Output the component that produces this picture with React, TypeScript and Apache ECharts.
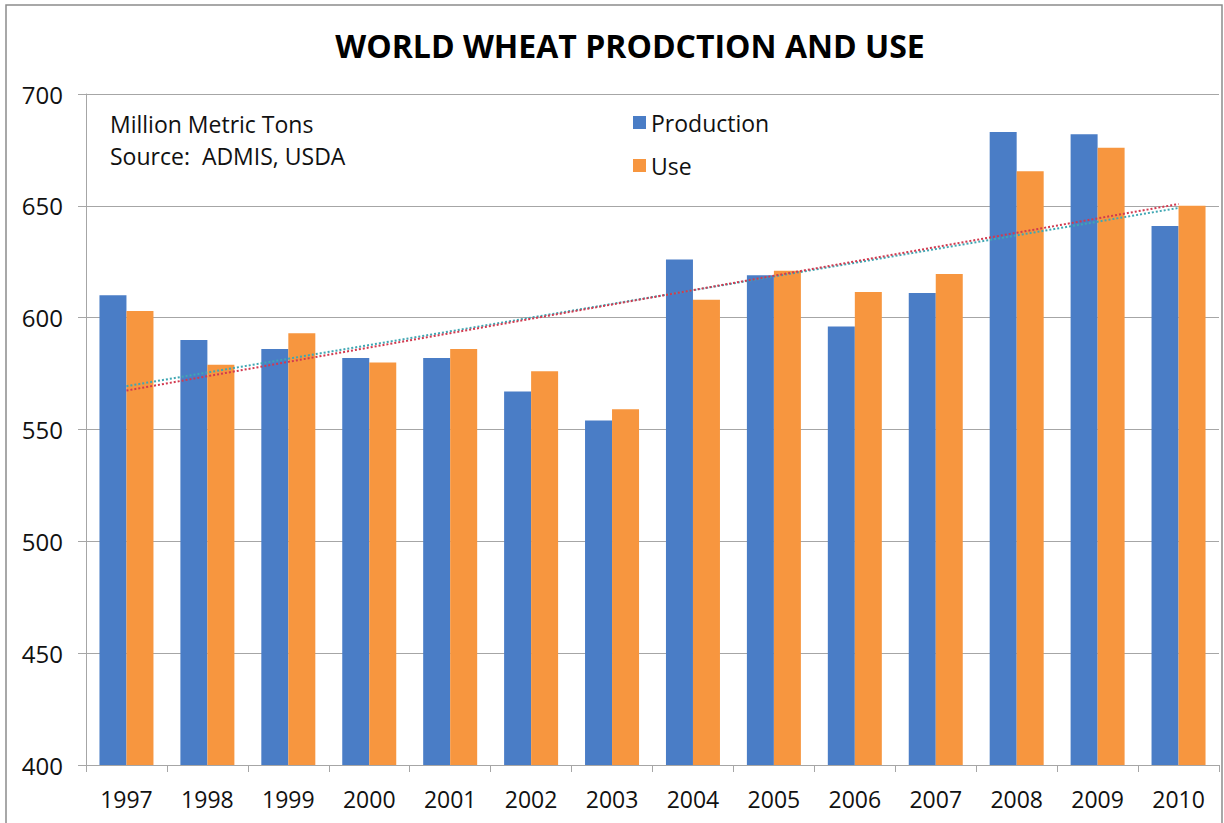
import React, { useEffect, useRef } from "react";
import * as echarts from "echarts";

const years = ["1997","1998","1999","2000","2001","2002","2003","2004","2005","2006","2007","2008","2009","2010"];
const production = [610, 590, 586, 582, 582, 567, 554, 626, 619, 596, 611, 683, 682, 641];
const use = [603, 579, 593, 580, 586, 576, 559, 608, 621, 611.5, 619.5, 665.5, 676, 650];
const yTicks = { min: 400, max: 700, interval: 50 };

function linearTrend(values: number[]): number[] {
  const n = values.length;
  const xm = (n - 1) / 2;
  const ym = values.reduce((a, b) => a + b, 0) / n;
  let num = 0, den = 0;
  values.forEach((v, i) => { num += (i - xm) * (v - ym); den += (i - xm) * (i - xm); });
  const slope = num / den;
  const b = ym - slope * xm;
  return values.map((_, i) => +(b + slope * i).toFixed(2));
}

const FONT = "'Open Sans', 'Noto Sans', sans-serif";

export default function App() {
  const ref = useRef<HTMLDivElement>(null);
  useEffect(() => {
    document.body.style.margin = "0";
    const chart = echarts.init(ref.current!, undefined, { renderer: "svg" });
    chart.setOption({
      animation: false,
      backgroundColor: "#ffffff",
      title: {
        text: "WORLD WHEAT PRODCTION AND USE",
        left: 625,
        textAlign: "center",
        top: 24,
        textStyle: { fontFamily: FONT, fontWeight: "bold", fontSize: 32, color: "#000" },
      },
      legend: {
        data: ["Production", "Use"],
        orient: "vertical",
        left: 628,
        top: 106,
        itemWidth: 13,
        itemHeight: 13,
        itemGap: 20,
        icon: "rect",
        textStyle: { fontFamily: FONT, fontSize: 23, color: "#111" },
      },
      graphic: [
        { type: "rect", shape: { x: 6, y: 5, width: 1216, height: 830 }, style: { fill: "none", stroke: "#8c8c8c", lineWidth: 1.5 } },
        { type: "text", left: 110, top: 112, style: { text: "Million Metric Tons", fontFamily: FONT, fontSize: 23, fill: "#111" } },
        { type: "text", left: 110, top: 144, style: { text: "Source:  ADMIS, USDA", fontFamily: FONT, fontSize: 23, fill: "#111" } },
      ],
      grid: { left: 86, right: 5, top: 94, bottom: 58, containLabel: false },
      xAxis: {
        type: "category",
        data: years,
        axisLine: { lineStyle: { color: "#a6a6a6", width: 1 } },
        axisTick: { show: true, length: 7, lineStyle: { color: "#a6a6a6" } },
        axisLabel: { fontFamily: FONT, fontSize: 23, color: "#111", margin: 22 },
      },
      yAxis: {
        type: "value",
        min: yTicks.min,
        max: yTicks.max,
        interval: yTicks.interval,
        axisLine: { show: true, lineStyle: { color: "#a6a6a6" } },
        axisTick: { show: true, length: 8, lineStyle: { color: "#a6a6a6" } },
        splitLine: { lineStyle: { color: "#a6a6a6", width: 1 } },
        axisLabel: { fontFamily: FONT, fontSize: 24, color: "#111", margin: 23 },
      },
      series: [
        {
          name: "Production",
          type: "bar",
          data: production,
          barWidth: 27,
          barGap: "0%",
          itemStyle: { color: "#4a7dc6" },
        },
        {
          name: "Use",
          type: "bar",
          data: use,
          barWidth: 27,
          itemStyle: { color: "#f7963f" },
        },
        {
          name: "Production trend",
          type: "line",
          data: linearTrend(production),
          symbol: "none",
          lineStyle: { color: "#3fa7b3", width: 2, type: "dotted" },
          z: 5,
        },
        {
          name: "Use trend",
          type: "line",
          data: linearTrend(use),
          symbol: "none",
          lineStyle: { color: "#d2394f", width: 2, type: "dotted" },
          z: 6,
        },
      ],
    });
    return () => chart.dispose();
  }, []);
  return <div ref={ref} style={{ width: 1224, height: 823 }} />;
}
